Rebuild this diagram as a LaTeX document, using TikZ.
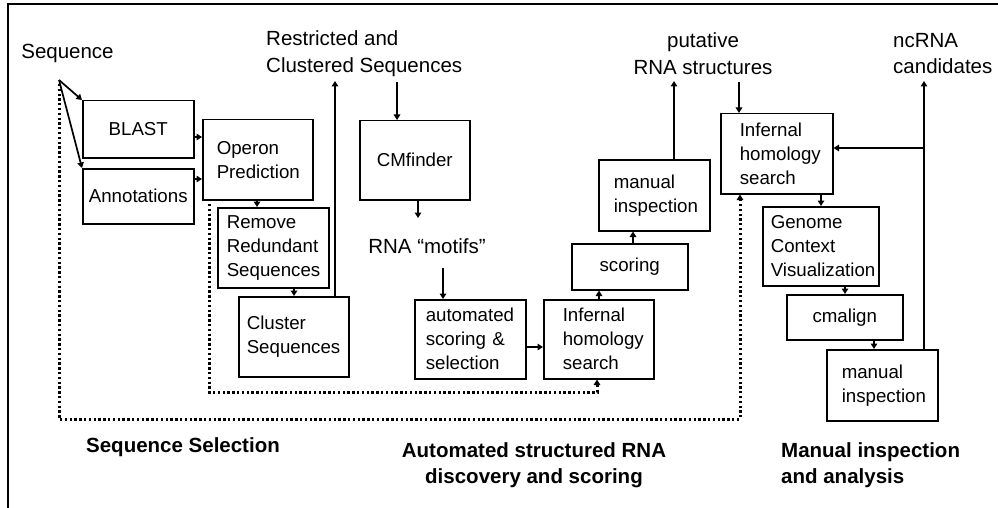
\documentclass[tikz,border=0pt]{standalone}
\usepackage{fontspec}
\setmainfont{Liberation Sans}
\usetikzlibrary{arrows.meta,calc}
\begin{document}
\begin{tikzpicture}[x=1pt,y=-1pt,
  box/.style={draw, line width=1.5pt, inner ysep=0pt, font=\fontsize{18.7}{24}\selectfont, anchor=north west},
  lbox/.style={box, align=left},
  cbox/.style={box, align=center, inner xsep=0pt},
  lab/.style={inner sep=0pt, font=\fontsize{20.5}{26.5}\selectfont},
  blab/.style={inner sep=0pt, font=\fontsize{20.5}{26.5}\selectfont\bfseries},
  arr/.style={line width=1.7pt, -{Triangle[length=5.5pt,width=6.5pt]}},
  dots/.style={line width=3pt, dash pattern=on 2.3pt off 2.5pt, -{Triangle[length=5.5pt,width=6.5pt]}},
  frame/.style={line width=2.4pt}]
\useasboundingbox (0,0) rectangle (998,508);
\draw[frame] (8,508) -- (8,4) -- (998,4);

% labels
\node[lab] (seq) at (67.5,53) {Sequence};
\node[lab, align=left, anchor=west] (restr) at (266,53.5) {Restricted and\\Clustered Sequences};
\node[lab] (motifs) at (427,246) {RNA “motifs”};
\node[lab, align=center] (put) at (703,53.5) {putative\\RNA structures};
\node[lab, align=left, anchor=west] (ncrna) at (893,53.5) {ncRNA\\candidates};
\node[blab] (ss) at (183,447) {Sequence Selection};
\node[blab, align=center] (asr) at (534,465) {Automated structured RNA\\discovery and scoring};
\node[blab, align=left, anchor=west] (mia) at (781,465) {Manual inspection\\and analysis};

% boxes
\node[cbox, minimum width=111pt, minimum height=57pt] (blast) at (82,100) {BLAST};
\node[cbox, minimum width=111pt, minimum height=55pt] (annot) at (82,168) {Annotations};
\node[lbox, minimum width=110pt, minimum height=80pt, inner xsep=14pt, text width=82pt] (operon) at (202,119) {Operon\\Prediction};
\node[lbox, minimum width=111pt, minimum height=80pt, inner xsep=9pt, text width=93pt] (remove) at (217,207) {Remove\\Redundant\\Sequences};
\node[lbox, minimum width=110pt, minimum height=80pt, inner xsep=8pt, text width=94pt] (cluster) at (238,296) {Cluster\\Sequences};
\node[cbox, minimum width=110pt, minimum height=79pt] (cmf) at (359,120) {CMfinder};
\node[lbox, minimum width=111pt, minimum height=79pt, inner xsep=11pt, text width=89pt] (auto) at (414,299) {automated\\scoring \&\\selection};
\node[lbox, minimum width=110pt, minimum height=79pt, inner xsep=19pt, text width=72pt] (inf1) at (543,299) {Infernal\\homology\\search};
\node[cbox, minimum width=116pt, minimum height=46pt] (score) at (571,243) {scoring};
\node[lbox, minimum width=111pt, minimum height=71pt, inner xsep=15pt, text width=81pt] (man1) at (598,159) {manual\\inspection};
\node[lbox, minimum width=112pt, minimum height=80pt, inner xsep=19pt, text width=74pt] (inf2) at (720,113) {Infernal\\homology\\search};
\node[lbox, minimum width=116pt, minimum height=79pt, inner xsep=8pt, text width=100pt] (genome) at (762,206) {Genome\\Context\\Visualization};
\node[cbox, minimum width=116pt, minimum height=45pt] (cmalign) at (786,294) {cmalign};
\node[lbox, minimum width=111pt, minimum height=71pt, inner xsep=15pt, text width=81pt] (man2) at (826,349) {manual\\inspection};

% free ends
\coordinate (sq) at (59,80);
\coordinate (rtip) at (335,81);
\coordinate (rsrc) at (397,82);
\coordinate (mtip) at (418,218);
\coordinate (msrc) at (443,268);
\coordinate (ptip) at (674,81);
\coordinate (psrc) at (739,82);
\coordinate (ntip) at (924,81);
\coordinate (nbr) at (924,148);

% connectors
\draw[arr] (sq) -- (blast.north west);
\draw[arr] (sq) -- (annot.north west);
\draw[arr] (blast.east |- 0,137) -- (operon.west |- 0,137);
\draw[arr] (annot.east |- 0,179) -- (operon.west |- 0,179);
\draw[arr] (operon.south -| 257,0) -- (remove.north -| 257,0);
\draw[arr] (remove.south -| 294,0) -- (cluster.north -| 294,0);
\draw[arr] (cluster.north -| rtip) -- (rtip);
\draw[arr] (rsrc) -- (cmf.north -| rsrc);
\draw[arr] (cmf.south -| mtip) -- (mtip);
\draw[arr] (msrc) -- (auto.north -| msrc);
\draw[arr] (auto.east |- 0,347) -- (inf1.west |- 0,347);
\draw[arr] (inf1.north -| 599,0) -- (score.south -| 599,0);
\draw[arr] (score.north -| 633,0) -- (man1.south -| 633,0);
\draw[arr] (man1.north -| ptip) -- (ptip);
\draw[arr] (psrc) -- (inf2.north -| psrc);
\draw[arr] (man2.north -| ntip) -- (ntip);
\draw[arr] (nbr) -- (inf2.east |- nbr);
\draw[arr] (inf2.south -| 821,0) -- (genome.north -| 821,0);
\draw[arr] (genome.south -| 845,0) -- (cmalign.north -| 845,0);
\draw[arr] (cmalign.south -| 874,0) -- (man2.north -| 874,0);

% dotted feedback paths
\draw[dots] (59,84) -- (59,419) -- (740,419) -- (inf2.south -| 740,0);
\draw[dots] (209,204) -- (209,392) -- (597,392) -- (inf1.south -| 597,0);
\end{tikzpicture}
\end{document}
